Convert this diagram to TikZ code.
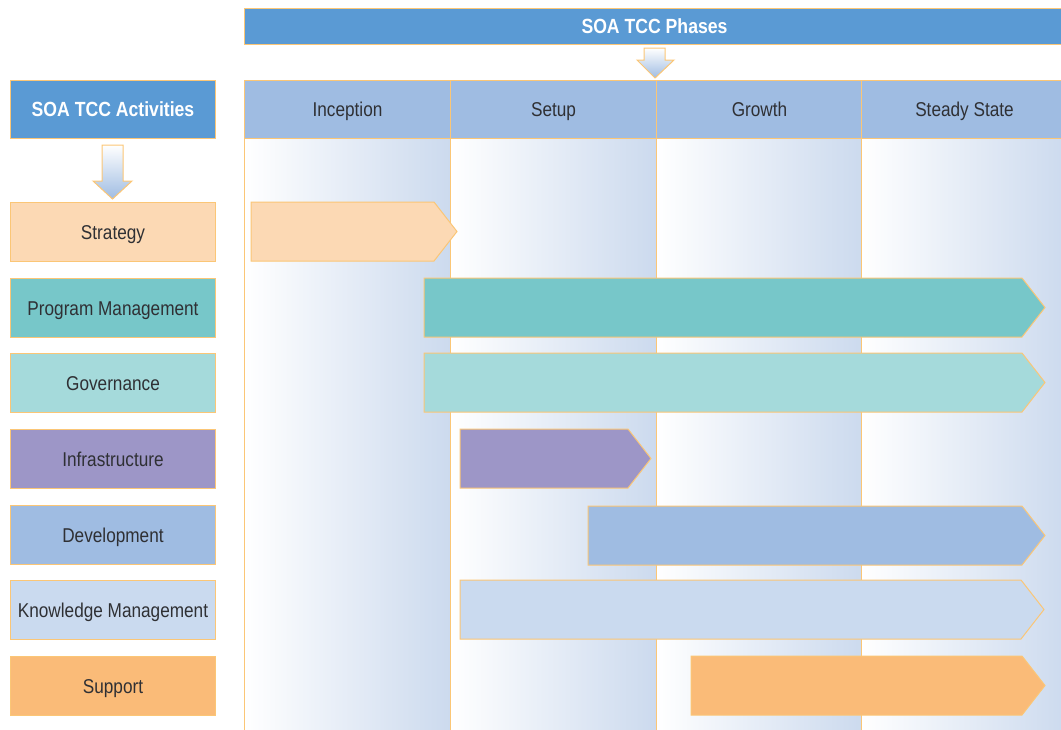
\documentclass[tikz,border=0pt]{standalone}
\usepackage{fontspec}
\setmainfont{Liberation Sans}[FakeStretch=0.86]
\usetikzlibrary{positioning}

\definecolor{titleblue}{HTML}{5A9AD4}
\definecolor{phaseblue}{HTML}{9FBCE2}
\definecolor{colshade}{HTML}{CCDAEE}
\definecolor{rimorange}{HTML}{FBC676}
\definecolor{textgray}{HTML}{2F3034}
\definecolor{strategycol}{HTML}{FCD9B4}
\definecolor{programcol}{HTML}{77C7C9}
\definecolor{governcol}{HTML}{A5DADB}
\definecolor{infracol}{HTML}{9D96C7}
\definecolor{developcol}{HTML}{9FBCE2}
\definecolor{knowcol}{HTML}{CADAEF}
\definecolor{supportcol}{HTML}{FABB78}

\tikzset{
  rim/.style={draw=rimorange, line width=1pt},
  headbox/.style={rim, fill=titleblue, text=white, inner sep=0pt, anchor=north west,
    text height=14.5pt, text depth=0pt, font=\fontsize{20.5}{24}\selectfont\bfseries},
  phasebox/.style={rim, fill=phaseblue, text=textgray, inner sep=0pt, anchor=north west,
    minimum width=206pt, minimum height=58pt, text height=14pt, text depth=0pt,
    font=\fontsize{20}{24}\selectfont},
  actbox/.style={rim, text=textgray, inner sep=0pt, anchor=north west,
    minimum width=205pt, minimum height=59pt, text height=14pt, text depth=0pt,
    font=\fontsize{20}{24}\selectfont},
  downarrow/.style={draw=rimorange, line width=1pt, top color=white, bottom color=phaseblue}
}

\begin{document}
\begin{tikzpicture}[x=1pt,y=-1pt]
    \useasboundingbox (0,0) rectangle (1061,729);

    % Phase columns
    \foreach \xa in {244,450,656,861} {
        \shade[left color=white, right color=colshade] (\xa,138) rectangle (\xa+206,730);
        \draw[rim] (\xa,80) -- (\xa,730);
    }

    % Headers
    \node[headbox, minimum width=820pt, minimum height=36pt] (phasetitle) at (244,8) {SOA TCC Phases};
    \node[headbox, minimum width=205pt, minimum height=58pt] (actheader) at (10,80) {SOA TCC Activities};
    \node[phasebox] (inception) at (244,80) {Inception};
    \node[phasebox] (setup) at (450,80) {Setup};
    \node[phasebox] (growth) at (656,80) {Growth};
    \node[phasebox] (steady) at (861,80) {Steady State};

    % Down arrows
    \draw[downarrow] (644,48) -- (665,48) -- (665,60) -- (674,60) -- (655,78)
        -- (637,60) -- (644,60) -- cycle;
    \draw[downarrow] (102,145) -- (123,145) -- (123,181) -- (132,181) -- (112.5,199)
        -- (93,181) -- (102,181) -- cycle;

    % Activities
    \node[actbox, fill=strategycol] (strategy) at (10,202) {Strategy};
    \node[actbox, fill=programcol] (program) at (10,278) {Program Management};
    \node[actbox, fill=governcol] (governance) at (10,353) {Governance};
    \node[actbox, fill=infracol] (infrastructure) at (10,429) {Infrastructure};
    \node[actbox, fill=developcol] (development) at (10,505) {Development};
    \node[actbox, fill=knowcol] (knowledge) at (10,580) {Knowledge Management};
    \node[actbox, fill=supportcol] (support) at (10,656) {Support};

    % Timeline bars
    \foreach \ya/\xa/\xb/\col in {202/251/434/strategycol, 278/424/1022/programcol,
        353/424/1022/governcol, 429/460/628/infracol, 506/588/1022/developcol,
        580/460/1021/knowcol, 656/691/1022/supportcol} {
        \draw[rim, fill=\col] (\xa,\ya) -- (\xb,\ya) -- (\xb+23,\ya+29.5)
            -- (\xb,\ya+59) -- (\xa,\ya+59) -- cycle;
    }

\end{tikzpicture}
\end{document}
